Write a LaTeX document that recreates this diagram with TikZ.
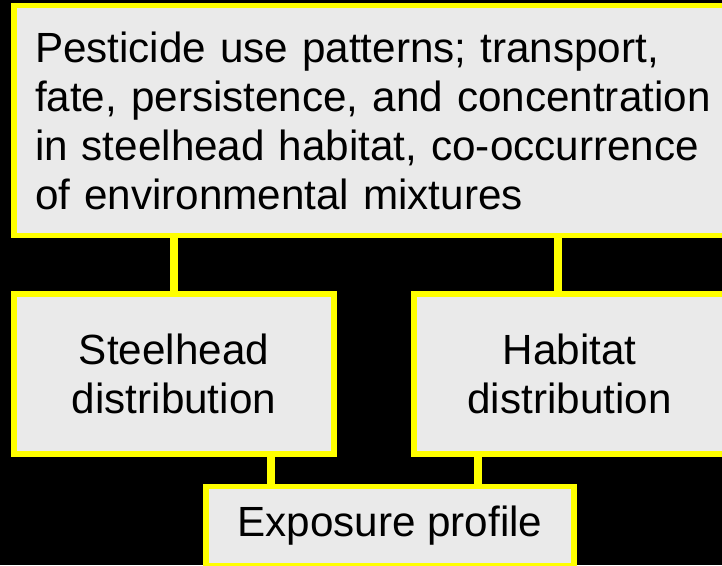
\documentclass[tikz,border=0pt]{standalone}
\usepackage{fontspec}
\setmainfont{Liberation Sans}
\definecolor{boxfill}{HTML}{EAEAEA}
\definecolor{ylw}{HTML}{FFFF00}
\hfuzz=100pt
\begin{document}
\begin{tikzpicture}[x=1pt,y=-1pt,
  box/.style={draw=ylw, fill=boxfill, line width=5.5pt, rectangle, inner sep=0pt,
    font=\fontsize{42.2}{49}\selectfont, text=black},
  link/.style={draw=ylw, line width=8pt}]
\useasboundingbox (0,0) rectangle (722,565);
\clip (0,0) rectangle (722,565);
\fill[black] (0,0) rectangle (722,565);
% connector positions
\coordinate (c1) at (174,0);
\coordinate (c2) at (558,0);
\coordinate (c3) at (270.5,0);
\coordinate (c4) at (478,0);
\node[box, minimum width=711.2pt, minimum height=230pt, text width=668.8pt, align=left] (top) at (369.4,120.5)
  {\mbox{Pesticide use patterns; transport,}\\ \mbox{fate, persistence, and concentration}\\ \mbox{in steelhead habitat, co-occurrence}\\ \mbox{of environmental mixtures}};
\node[box, minimum width=320.4pt, minimum height=160.4pt, align=center] (steel) at (174,374)
  {Steelhead\\distribution};
\node[box, minimum width=311pt, minimum height=160.4pt, align=center] (hab) at (569.5,374)
  {Habitat\\distribution};
\node[box, minimum width=367.6pt, minimum height=79.2pt, align=center] (expo) at (390,525.9)
  {Exposure profile};
\draw[link] (top.south -| c1) -- (steel.north -| c1);
\draw[link] (top.south -| c2) -- (hab.north -| c2);
\draw[link] (steel.south -| c3) -- (expo.north -| c3);
\draw[link] (hab.south -| c4) -- (expo.north -| c4);
\end{tikzpicture}
\end{document}
